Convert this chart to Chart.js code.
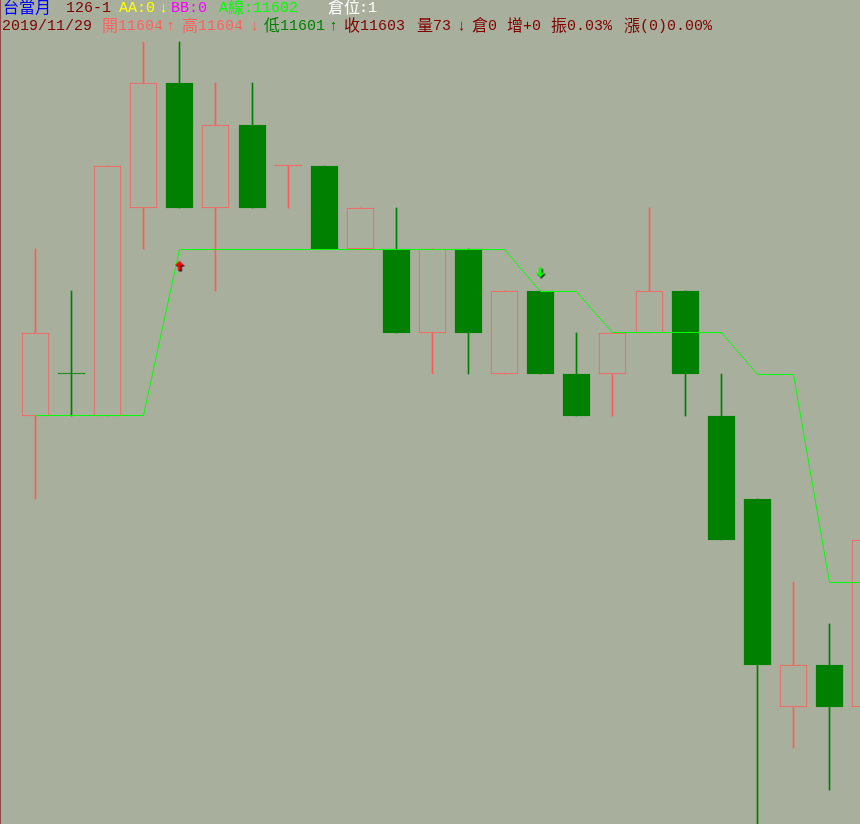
<!DOCTYPE html>
<html>
<head>
<meta charset="utf-8">
<script src="https://cdn.jsdelivr.net/npm/chart.js@4.4.1/dist/chart.umd.min.js"></script>
<style>
  html, body { margin: 0; padding: 0; background: #A8B09D; }
  #wrap { position: relative; width: 860px; height: 824px; overflow: hidden; }
  #chart { position: absolute; left: 0; top: 0; }
  #edge { position: absolute; left: 0; top: 0; width: 1px; height: 824px; background: #8A4A4A; }
  .hd span { position: absolute; white-space: pre; font: 15px "Liberation Mono", "Noto Sans CJK TC", monospace; line-height: 18px; }
  .hd span.cjk { font-size: 16px; }
</style>
</head>
<body>
<div id="wrap">
  <canvas id="chart" width="860" height="824"></canvas>
  <div id="edge"></div>
  <div class="hd" id="hd"></div>
</div>
<script>
// candle data (price points), index 0 = leftmost bar
const opens  = [11606, 11607, 11606, 11611, 11614, 11611, 11613, 11612, 11612, 11610, 11610, 11608, 11610, 11607, 11609, 11607, 11607, 11608, 11609, 11606, 11604, 11599, 11600, 11599];
const closes = [11608, 11607, 11612, 11614, 11611, 11613, 11611, 11612, 11610, 11611, 11608, 11610, 11608, 11609, 11607, 11606, 11608, 11609, 11607, 11603, 11600, 11600, 11599, 11603];
const highs  = [11610, 11609, 11612, 11615, 11615, 11614, 11614, 11612, 11612, 11611, 11611, 11610, 11610, 11609, 11609, 11608, 11608, 11611, 11609, 11607, 11604, 11602, 11601, 11603];
const lows   = [11604, 11606, 11606, 11610, 11611, 11609, 11611, 11611, 11610, 11610, 11608, 11607, 11607, 11607, 11607, 11606, 11606, 11608, 11606, 11603, 11596, 11598, 11597, 11599];
// A line (stop line)
const aLine  = [11606, 11606, 11606, 11606, 11610, 11610, 11610, 11610, 11610, 11610, 11610, 11610, 11610, 11610, 11609, 11609, 11608, 11608, 11608, 11608, 11607, 11607, 11602, 11602];
// signal arrows
const buyIdx = [4],  buyPrice = [11609.58];
const sellIdx = [14], sellPrice = [11609.41];

const BG = "#A8B09D";
const RED = "#FF5A5A";
const GREEN = "#008000";

function isUp(i) {
  if (closes[i] !== opens[i]) return closes[i] > opens[i];
  return i > 0 ? closes[i] >= closes[i - 1] : true;
}

function arrowIcon(up, color) {
  const c = document.createElement("canvas");
  c.width = 13; c.height = 13;
  const g = c.getContext("2d");
  const pts = up
    ? [[5.5, 0], [10, 4.5], [7, 4.5], [7, 9.5], [4, 9.5], [4, 4.5], [1, 4.5]]
    : [[4, 0], [7, 0], [7, 5], [10, 5], [5.5, 9.5], [1, 5], [4, 5]];
  const path = (dx, dy) => {
    g.beginPath();
    pts.forEach((p, k) => k ? g.lineTo(p[0] + dx, p[1] + dy) : g.moveTo(p[0] + dx, p[1] + dy));
    g.closePath();
    g.fill();
  };
  g.fillStyle = "#000"; path(1.5, 1.5);
  g.fillStyle = color; path(0.5, 0.5);
  return c;
}

// snap bars and line vertices to the pixel grid so 1px strokes stay crisp
const pixelSnap = {
  id: "pixelSnap",
  afterDatasetsUpdate(chart) {
    chart.data.datasets.forEach((ds, d) => {
      const meta = chart.getDatasetMeta(d);
      meta.data.forEach(el => {
        if (meta.type === "bar") {
          el.x = Math.floor(el.x) + 0.5;
          el.y = Math.round(el.y);
          el.base = Math.round(el.base);
        } else if (meta.type === "line") {
          el.x = Math.floor(el.x) + 0.5;
          el.y = Math.floor(el.y) + 0.5;
        }
      });
    });
  }
};

const idx = opens.map((_, i) => i);

new Chart(document.getElementById("chart"), {
  type: "bar",
  data: {
    datasets: [
      {
        // wicks
        type: "bar",
        data: idx.map(i => ({ x: i, y: [lows[i], highs[i]] })),
        backgroundColor: idx.map(i => isUp(i) ? RED : GREEN),
        borderWidth: 0,
        barThickness: 1,
        grouped: false,
        order: 3
      },
      {
        // bodies
        type: "bar",
        data: idx.map(i => ({ x: i, y: [opens[i], closes[i]] })),
        backgroundColor: idx.map(i => opens[i] === closes[i] ? (isUp(i) ? RED : GREEN) : (isUp(i) ? BG : GREEN)),
        borderColor: idx.map(i => isUp(i) ? RED : GREEN),
        borderWidth: 1,
        borderSkipped: false,
        minBarLength: 1,
        barThickness: 27,
        grouped: false,
        order: 2
      },
      {
        type: "line",
        data: idx.map(i => ({ x: i, y: aLine[i] })),
        borderColor: "#00FF00",
        borderWidth: 1,
        pointRadius: 0,
        tension: 0,
        order: 1
      },
      {
        type: "scatter",
        data: buyIdx.map((x, k) => ({ x: x, y: buyPrice[k] })),
        pointStyle: arrowIcon(true, "#FF0000"),
        order: 0
      },
      {
        type: "scatter",
        data: sellIdx.map((x, k) => ({ x: x, y: sellPrice[k] })),
        pointStyle: arrowIcon(false, "#00FF00"),
        order: 0
      }
    ]
  },
  options: {
    responsive: false,
    animation: false,
    devicePixelRatio: 1,
    layout: { padding: 0, autoPadding: false },
    plugins: { legend: { display: false }, tooltip: { enabled: false } },
    scales: {
      x: { type: "linear", offset: false, bounds: "data", min: -0.9837, max: 22.846, display: false },
      y: { type: "linear", bounds: "data", min: 11596.18, max: 11616.0, display: false }
    }
  },
  plugins: [pixelSnap]
});

// header text
const header = [
  [0, 3, "台當月", "#0000FF"], [0, 66, "126-1", "#800000"], [0, 119, "AA:0", "#FFFF00"], [0, 159, "↓", "#FFFF00"],
  [0, 171, "BB:0", "#FF00FF"], [0, 219, "A", "#00FF00"], [0, 228, "線", "#00FF00"], [0, 244, ":11602", "#00FF00"],
  [0, 328, "倉位", "#FFFFFF"], [0, 359, ":1", "#FFFFFF"],
  [1, 2, "2019/11/29", "#800000"],
  [1, 102, "開", "#FF6060"], [1, 118, "11604", "#FF6060"], [1, 166, "↑", "#FF6060"],
  [1, 182, "高", "#FF6060"], [1, 198, "11604", "#FF6060"], [1, 250, "↓", "#FF6060"],
  [1, 264, "低", "#008000"], [1, 280, "11601", "#008000"], [1, 329, "↑", "#008000"],
  [1, 344, "收", "#800000"], [1, 360, "11603", "#800000"],
  [1, 417, "量", "#800000"], [1, 433, "73", "#800000"], [1, 457, "↓", "#800000"],
  [1, 472, "倉", "#800000"], [1, 488, "0", "#800000"],
  [1, 507, "增", "#800000"], [1, 523, "+0", "#800000"],
  [1, 551, "振", "#800000"], [1, 567, "0.03%", "#800000"],
  [1, 624, "漲", "#800000"], [1, 640, "(0)0.00%", "#800000"]
];
const hd = document.getElementById("hd");
header.forEach(([row, x, t, c]) => {
  const s = document.createElement("span");
  s.textContent = t;
  if (/[\u3400-\u9fff]/.test(t)) s.className = "cjk";
  s.style.left = x + "px";
  s.style.top = (row ? 18 : 0) + "px";
  s.style.color = c;
  hd.appendChild(s);
});
</script>
</body>
</html>
